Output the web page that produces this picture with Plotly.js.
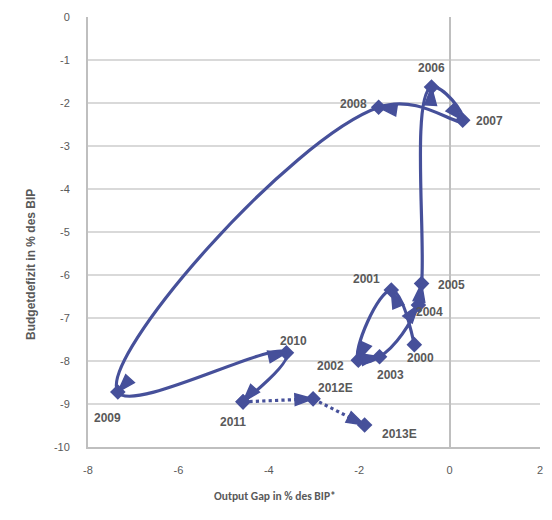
<!DOCTYPE html>
<html>
<head>
<meta charset="utf-8">
<script src="https://cdn.plot.ly/plotly-3.0.1.min.js"></script>
<style>html,body{margin:0;padding:0;background:#fff}#chart{width:552px;height:520px}</style>
</head>
<body>
<div id="chart"></div>
<script>
// Main history 2000–2011
const years = ['2000','2001','2002','2003','2004','2005','2006','2007','2008','2009','2010','2011'];
const outputGap = [-0.78, -1.29, -2.02, -1.55, -0.69, -0.62, -0.40, 0.29, -1.57, -7.34, -3.61, -4.57];
const budget = [-7.62, -6.35, -7.98, -7.90, -6.70, -6.20, -1.63, -2.40, -2.10, -8.72, -7.81, -8.95];

// Forecast 2011–2013E
const fcYears = ['2011','2012E','2013E'];
const fcGap = [-4.57, -3.02, -1.88];
const fcBudget = [-8.95, -8.88, -9.49];

// Tick labels
const xTickVals = [-8, -6, -4, -2, 0, 2];
const xTickText = ['-8', '-6', '-4', '-2', '0', '2'];
const yTickVals = [0, -1, -2, -3, -4, -5, -6, -7, -8, -9, -10];
const yTickText = ['0', '-1', '-2', '-3', '-4', '-5', '-6', '-7', '-8', '-9', '-10'];

// Label positions (data coords)
const labelText = ['2000','2001','2002','2003','2004','2005','2006','2007','2008','2009','2010','2011','2012E','2013E'];
const labelX = [-0.65, -1.84, -2.64, -1.31, -0.44, 0.04, -0.40, 0.89, -2.13, -7.56, -3.46, -4.79, -2.52, -1.10];
const labelY = [-7.93, -6.09, -8.12, -8.33, -6.86, -6.23, -1.19, -2.42, -2.02, -9.33, -7.53, -9.42, -8.63, -9.70];

const col = '#46509a';
const grey = '#595959';
const arial = '"Liberation Sans", Arial, sans-serif';

const traces = [
  {x: outputGap, y: budget, type: 'scatter', mode: 'lines+markers',
   line: {color: col, width: 3.2, shape: 'spline', smoothing: 1.3},
   marker: {symbol: 'diamond', size: 12, color: col}, hoverinfo: 'skip'},
  {x: outputGap, y: budget, type: 'scatter', mode: 'markers',
   marker: {symbol: 'arrow', size: outputGap.map((v, i) => i === 0 ? 0 : 19), color: col, opacity: 1,
            angleref: 'previous', line: {width: 1.5, color: col}}, hoverinfo: 'skip'},
  {x: fcGap, y: fcBudget, type: 'scatter', mode: 'lines+markers',
   line: {color: col, width: 3.2, dash: 'dot'},
   marker: {symbol: 'diamond', size: 12, color: col}, hoverinfo: 'skip'},
  {x: fcGap, y: fcBudget, type: 'scatter', mode: 'markers',
   marker: {symbol: 'arrow', size: fcGap.map((v, i) => i === 0 ? 0 : 19), color: col, opacity: 1,
            angleref: 'previous', line: {width: 1.5, color: col}}, hoverinfo: 'skip'}
];

const annotations = labelText.map((t, i) => ({
  x: labelX[i], y: labelY[i], xref: 'x', yref: 'y', text: '<b>' + t + '</b>', showarrow: false,
  font: {family: arial, size: 12, color: grey}
}));
annotations.push({
  xref: 'paper', yref: 'paper', x: (275 - 88) / 452, y: -58 / 430, text: '<b>Output Gap in % des BIP*</b>',
  showarrow: false, font: {family: 'Carlito, Lato, sans-serif', size: 11.5, color: grey}
});
annotations.push({
  xref: 'paper', yref: 'paper', x: -66 / 452, y: (447 - 265) / 430, text: '<b>Budgetdefizit in % des BIP</b>',
  textangle: -90, showarrow: false,
  font: {family: arial, size: 12, color: grey}
});

const layout = {
  width: 552, height: 520,
  margin: {l: 88, r: 12, t: 17, b: 73},
  paper_bgcolor: '#fff', plot_bgcolor: '#fff',
  showlegend: false,
  font: {family: arial, color: grey, size: 11},
  xaxis: {range: [-8, 2], tickmode: 'array', tickvals: xTickVals, ticktext: xTickText,
          showgrid: false, zeroline: true,
          zerolinecolor: '#bfbfbf', zerolinewidth: 2, showline: true, linecolor: '#bfbfbf', linewidth: 2,
          ticks: '', ticklabelstandoff: 12, tickfont: {family: arial, size: 11, color: grey}},
  yaxis: {range: [-10, 0], tickmode: 'array', tickvals: yTickVals, ticktext: yTickText,
          showgrid: true, gridcolor: '#d9d9d9', gridwidth: 1.5,
          zeroline: false, showline: true, linecolor: '#bfbfbf', linewidth: 2,
          ticks: '', ticklabelstandoff: 14, tickfont: {family: arial, size: 11, color: grey}},
  annotations: annotations
};

Plotly.newPlot('chart', traces, layout, {displayModeBar: false, staticPlot: true});
</script>
</body>
</html>
